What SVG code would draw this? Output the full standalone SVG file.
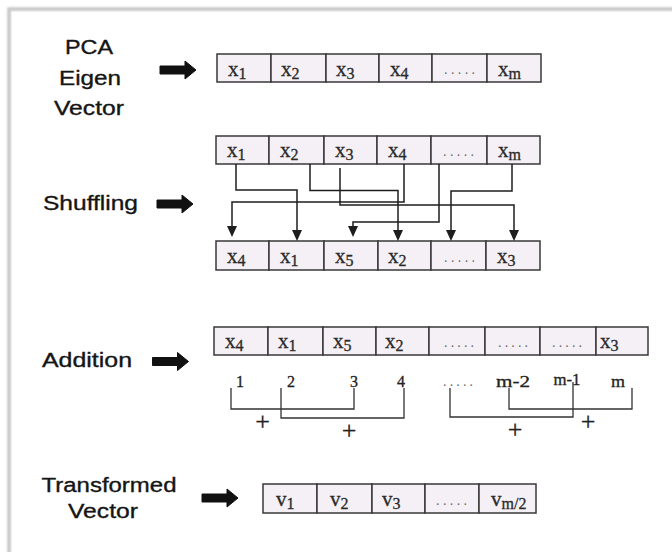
<svg xmlns="http://www.w3.org/2000/svg" width="672" height="552" viewBox="0 0 672 552">
  <defs>
    <style>
      .lbl { font-family: "Liberation Sans", Arial, sans-serif; font-size: 20px; fill: #151515; stroke: #151515; stroke-width: 0.35; text-anchor: middle; }
      .cell { fill: #f5f0f5; stroke: #383838; stroke-width: 1.5; }
      .v { font-family: "Liberation Serif", "Times New Roman", serif; font-size: 21px; fill: #2a2a2a; stroke: #2a2a2a; stroke-width: 0.3; }
      .sub { font-size: 16px; }
      .dots { font-family: "Liberation Serif", "Times New Roman", serif; font-size: 14px; fill: #6a6a6a; }
      .num { font-family: "Liberation Serif", "Times New Roman", serif; font-size: 16px; fill: #222; stroke: #222; stroke-width: 0.3; text-anchor: middle; }
      .plus { font-family: "Liberation Serif", "Times New Roman", serif; font-size: 26px; fill: #222; stroke: #222; stroke-width: 0.3; text-anchor: middle; }
      .wire { fill: none; stroke: #1e1e1e; stroke-width: 1.5; }
      .brk { fill: none; stroke: #333; stroke-width: 1.3; }
      .blk { fill: #111; stroke: #111; stroke-width: 1; stroke-linejoin: round; }
    </style>
    <!-- thick block arrow pointing right, origin at tail centre -->
    <path id="blockArrow" class="blk" d="M0,-4 H25 V-9 L36,0 L25,9 V4 H0 Z"/>
    <marker id="tip" viewBox="0 0 11 10" refX="7" refY="5" markerWidth="11" markerHeight="10" markerUnits="userSpaceOnUse" orient="auto">
      <path d="M0,0 L11,5 L0,10 Z" fill="#1e1e1e"/>
    </marker>
    <filter id="soft" x="-5%" y="-5%" width="110%" height="110%">
      <feGaussianBlur stdDeviation="1.2"/>
    </filter>
  </defs>

  <rect width="672" height="552" fill="#ffffff"/>

  <!-- page frame -->
  <g id="frame">
    <rect x="9" y="9" width="700" height="600" fill="none" stroke="#bdbdbd" stroke-width="3" filter="url(#soft)"/>
    <rect x="10" y="10" width="700" height="600" fill="none" stroke="#d2d2d2" stroke-width="1"/>
  </g>

  <!-- stage labels -->
  <g id="label-pca">
    <text class="lbl" x="89" y="54" textLength="48" lengthAdjust="spacingAndGlyphs">PCA</text>
    <text class="lbl" x="90" y="85" textLength="62" lengthAdjust="spacingAndGlyphs">Eigen</text>
    <text class="lbl" x="89" y="115" textLength="70" lengthAdjust="spacingAndGlyphs">Vector</text>
    <use href="#blockArrow" x="160" y="70"/>
  </g>
  <g id="label-shuffling">
    <text class="lbl" x="90.5" y="210" font-size="21" textLength="95" lengthAdjust="spacingAndGlyphs">Shuffling</text>
    <use href="#blockArrow" x="157" y="204"/>
  </g>
  <g id="label-addition">
    <text class="lbl" x="87" y="367" font-size="21" textLength="90" lengthAdjust="spacingAndGlyphs">Addition</text>
    <use href="#blockArrow" x="152.5" y="361.5"/>
  </g>
  <g id="label-transformed">
    <text class="lbl" x="109" y="492" font-size="21" textLength="135" lengthAdjust="spacingAndGlyphs">Transformed</text>
    <text class="lbl" x="103" y="518" font-size="21" textLength="70" lengthAdjust="spacingAndGlyphs">Vector</text>
    <use href="#blockArrow" x="202" y="498"/>
  </g>

  <!-- eigen vector -->
  <g id="vec-eigen">
    <rect class="cell" x="217" y="54" width="54" height="28"/>
    <rect class="cell" x="271" y="54" width="55" height="28"/>
    <rect class="cell" x="326" y="54" width="53" height="28"/>
    <rect class="cell" x="379" y="54" width="53" height="28"/>
    <rect class="cell" x="432" y="54" width="55" height="28"/>
    <rect class="cell" x="487" y="54" width="54" height="28"/>
    <text class="v" x="228" y="76">x<tspan class="sub" dy="3">1</tspan></text>
    <text class="v" x="281" y="76">x<tspan class="sub" dy="3">2</tspan></text>
    <text class="v" x="336" y="76">x<tspan class="sub" dy="3">3</tspan></text>
    <text class="v" x="390" y="76">x<tspan class="sub" dy="3">4</tspan></text>
    <text class="dots" x="444" y="74" textLength="31" lengthAdjust="spacing">.....</text>
    <text class="v" x="498" y="76">x<tspan class="sub" dy="3">m</tspan></text>
  </g>

  <!-- vector before shuffling -->
  <g id="vec-source">
    <rect class="cell" x="216" y="136" width="53" height="28"/>
    <rect class="cell" x="269" y="136" width="55" height="28"/>
    <rect class="cell" x="324" y="136" width="53" height="28"/>
    <rect class="cell" x="377" y="136" width="54" height="28"/>
    <rect class="cell" x="431" y="136" width="56" height="28"/>
    <rect class="cell" x="487" y="136" width="53" height="28"/>
    <text class="v" x="227" y="157">x<tspan class="sub" dy="3">1</tspan></text>
    <text class="v" x="280" y="157">x<tspan class="sub" dy="3">2</tspan></text>
    <text class="v" x="335" y="157">x<tspan class="sub" dy="3">3</tspan></text>
    <text class="v" x="388" y="157">x<tspan class="sub" dy="3">4</tspan></text>
    <text class="dots" x="443" y="156" textLength="31" lengthAdjust="spacing">.....</text>
    <text class="v" x="498" y="157">x<tspan class="sub" dy="3">m</tspan></text>
  </g>

  <!-- shuffled vector -->
  <g id="vec-shuffled">
    <rect class="cell" x="216" y="241" width="53" height="29"/>
    <rect class="cell" x="269" y="241" width="55" height="29"/>
    <rect class="cell" x="324" y="241" width="54" height="29"/>
    <rect class="cell" x="378" y="241" width="53" height="29"/>
    <rect class="cell" x="431" y="241" width="55" height="29"/>
    <rect class="cell" x="486" y="241" width="54" height="29"/>
    <text class="v" x="227" y="263">x<tspan class="sub" dy="3">4</tspan></text>
    <text class="v" x="280" y="263">x<tspan class="sub" dy="3">1</tspan></text>
    <text class="v" x="335" y="263">x<tspan class="sub" dy="3">5</tspan></text>
    <text class="v" x="388" y="263">x<tspan class="sub" dy="3">2</tspan></text>
    <text class="dots" x="444" y="262" textLength="31" lengthAdjust="spacing">.....</text>
    <text class="v" x="497" y="263">x<tspan class="sub" dy="3">3</tspan></text>
  </g>

  <!-- shuffling connectors -->
  <g id="connectors">
    <path class="wire" marker-end="url(#tip)" d="M236,164 V190 H297 V237"/>
    <path class="wire" marker-end="url(#tip)" d="M310,164 V190.5 H398 V237"/>
    <path class="wire" marker-end="url(#tip)" d="M340,168 V205 H514 V237"/>
    <path class="wire" marker-end="url(#tip)" d="M404,164 V202 H232 V233"/>
    <path class="wire" marker-end="url(#tip)" d="M439,164 V222 H353 V233"/>
    <path class="wire" marker-end="url(#tip)" d="M512,164 V191 H451 V237"/>
  </g>

  <!-- vector fed to addition -->
  <g id="vec-addition">
    <rect class="cell" x="214" y="327" width="54" height="28"/>
    <rect class="cell" x="268" y="327" width="55" height="28"/>
    <rect class="cell" x="323" y="327" width="53" height="28"/>
    <rect class="cell" x="376" y="327" width="53" height="28"/>
    <rect class="cell" x="429" y="327" width="56" height="28"/>
    <rect class="cell" x="485" y="327" width="55" height="28"/>
    <rect class="cell" x="540" y="327" width="56" height="28"/>
    <rect class="cell" x="596" y="327" width="52" height="28"/>
    <text class="v" x="225" y="348">x<tspan class="sub" dy="3">4</tspan></text>
    <text class="v" x="278" y="348">x<tspan class="sub" dy="3">1</tspan></text>
    <text class="v" x="333" y="348">x<tspan class="sub" dy="3">5</tspan></text>
    <text class="v" x="385" y="348">x<tspan class="sub" dy="3">2</tspan></text>
    <text class="dots" x="444" y="347" textLength="30" lengthAdjust="spacing">.....</text>
    <text class="dots" x="498" y="347" textLength="30" lengthAdjust="spacing">.....</text>
    <text class="dots" x="552" y="347" textLength="30" lengthAdjust="spacing">.....</text>
    <text class="v" x="600" y="348">x<tspan class="sub" dy="3">3</tspan></text>
  </g>

  <!-- element indices and pairwise sums -->
  <g id="pairing">
    <text class="num" x="240" y="387">1</text>
    <text class="num" x="291" y="387">2</text>
    <text class="num" x="354" y="387">3</text>
    <text class="num" x="401" y="387">4</text>
    <text class="dots" x="443" y="386" textLength="30" lengthAdjust="spacing">.....</text>
    <text class="num" x="513" y="387" textLength="34" lengthAdjust="spacingAndGlyphs">m-2</text>
    <text class="num" x="567" y="385" textLength="27" lengthAdjust="spacingAndGlyphs">m-1</text>
    <text class="num" x="618" y="387" textLength="14" lengthAdjust="spacingAndGlyphs">m</text>
    <path class="brk" d="M231,388 V409 H354 V388"/>
    <path class="brk" d="M281,388 V418 H404 V388"/>
    <path class="brk" d="M450,388 V417 H573 V382"/>
    <path class="brk" d="M509,388 V409 H632 V388"/>
    <text class="plus" x="262.5" y="429.5">+</text>
    <text class="plus" x="349" y="438.5">+</text>
    <text class="plus" x="515" y="437.5">+</text>
    <text class="plus" x="588" y="429.5">+</text>
  </g>

  <!-- transformed vector -->
  <g id="vec-transformed">
    <rect class="cell" x="263" y="484" width="54" height="29"/>
    <rect class="cell" x="317" y="484" width="55" height="29"/>
    <rect class="cell" x="372" y="484" width="53" height="29"/>
    <rect class="cell" x="425" y="484" width="54" height="29"/>
    <rect class="cell" x="479" y="484" width="57" height="29"/>
    <text class="v" x="276" y="506">v<tspan class="sub" dy="3">1</tspan></text>
    <text class="v" x="330" y="506">v<tspan class="sub" dy="3">2</tspan></text>
    <text class="v" x="382" y="506">v<tspan class="sub" dy="3">3</tspan></text>
    <text class="dots" x="436" y="505" textLength="31" lengthAdjust="spacing">.....</text>
    <text class="v" x="491" y="506">v<tspan class="sub" dy="3">m/2</tspan></text>
  </g>
</svg>
